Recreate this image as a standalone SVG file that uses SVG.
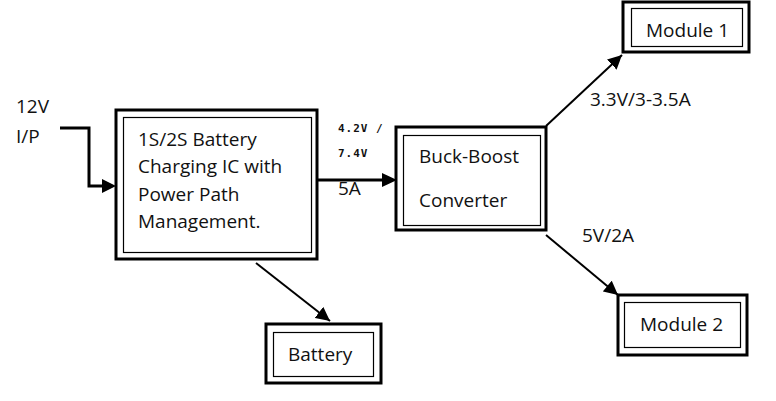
<svg xmlns="http://www.w3.org/2000/svg" width="776" height="401" viewBox="0 0 776 401">
<style>
.outer{fill:#fff;stroke:#000;stroke-width:3}
.inner{fill:none;stroke:#000;stroke-width:1.2}
.t{font-family:"Open Sans",Lato,"Liberation Sans",sans-serif;font-size:19px;fill:#111}
.s{font-family:"DejaVu Sans Mono",monospace;font-size:11px;font-weight:bold;letter-spacing:1px;fill:#111}
.c{fill:none;stroke:#000;stroke-width:2}
.ct{fill:none;stroke:#000;stroke-width:3}
</style>
<defs>
<marker id="ah" markerUnits="userSpaceOnUse" markerWidth="16" markerHeight="14" refX="14" refY="7" orient="auto">
<path d="M0,0 L14,7 L0,14 Z" fill="#000"/>
</marker>
</defs>
<rect width="776" height="401" fill="#fff"/>
<g id="connectors">
<path class="ct" d="M60,128 H89 V186 H103"/>
<path d="M102,179 L116,186 L102,193 Z" fill="#000"/>
<path class="ct" d="M317,180 H384"/>
<path d="M382,173 L397,180 L382,187 Z" fill="#000"/>
<line class="c" x1="546" y1="126" x2="622" y2="55" marker-end="url(#ah)"/>
<line class="c" x1="546" y1="235" x2="618" y2="295" marker-end="url(#ah)"/>
<line class="c" x1="256" y1="263" x2="330" y2="321" marker-end="url(#ah)"/>
<text class="t" x="16" y="113">12V</text>
<text class="t" x="16" y="143">I/P</text>
<text class="s" x="338" y="132">4.2V /</text>
<text class="s" x="338" y="157">7.4V</text>
<text class="t" x="338" y="195">5A</text>
<text class="t" x="590" y="106">3.3V/3-3.5A</text>
<text class="t" x="582" y="242">5V/2A</text>
</g>
<g id="charger">
<rect class="outer" x="116" y="110" width="201" height="149"/>
<rect class="inner" x="123.5" y="117.5" width="188" height="135"/>
<text class="t" x="138" y="146">1S/2S Battery</text>
<text class="t" x="138" y="173">Charging IC with</text>
<text class="t" x="138" y="201">Power Path</text>
<text class="t" x="138" y="228">Management.</text>
</g>
<g id="buckboost">
<rect class="outer" x="396" y="127" width="150" height="103"/>
<rect class="inner" x="403.5" y="135.5" width="137" height="90"/>
<text class="t" x="419" y="163">Buck-Boost</text>
<text class="t" x="419" y="207">Converter</text>
</g>
<g id="module1">
<rect class="outer" x="623" y="2" width="126" height="50"/>
<rect class="inner" x="631.5" y="8.5" width="111" height="38"/>
<text class="t" x="646" y="37">Module 1</text>
</g>
<g id="module2">
<rect class="outer" x="618" y="295" width="129" height="60"/>
<rect class="inner" x="624.5" y="302.5" width="116" height="45"/>
<text class="t" x="640" y="331">Module 2</text>
</g>
<g id="battery">
<rect class="outer" x="266" y="324" width="115" height="59"/>
<rect class="inner" x="273.5" y="332.5" width="100" height="44"/>
<text class="t" x="288" y="361">Battery</text>
</g>
</svg>
